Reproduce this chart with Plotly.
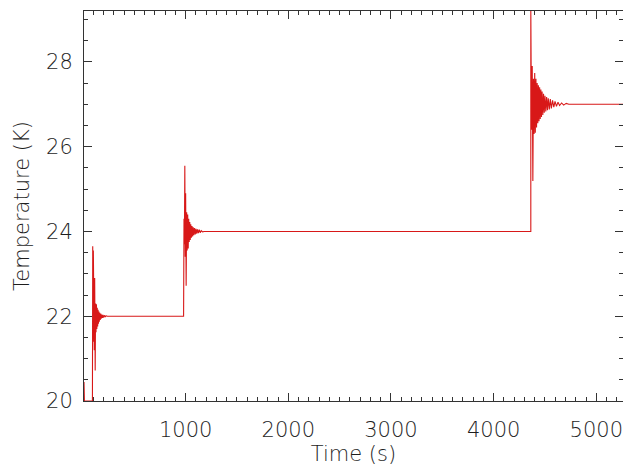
import plotly.graph_objects as go

# ---- data ----
t_start, t_end = 10, 5260
level0 = 20.0
start_values = [20.45, 20.0]          # tiny dip right at the start
start_times = [10, 14]

# transient 1: step at ~92 s, 20 K -> 22 K
step1 = 92
off1 = [0, 3, 6, 9, 12, 15, 18, 22, 27, 31, 35, 39, 43, 47, 51, 55, 59, 63, 67,
        71, 76, 81, 86, 91, 97, 103, 110, 118, 126, 135, 145]
val1 = [21.1, 23.65, 21.4, 23.55, 21.3, 23.3, 21.2, 22.9, 20.72, 22.3, 21.62,
        22.28, 21.7, 22.2, 21.76, 22.15, 21.82, 22.11, 21.87, 22.08, 21.91,
        22.06, 21.94, 22.04, 21.96, 22.03, 21.97, 22.02, 21.99, 22.01, 22.0]

# transient 2: step at ~980 s, 22 K -> 24 K
step2 = 980
off2 = [0, 4, 8, 12, 16, 20, 25, 30, 35, 40, 45, 50, 55, 60, 65, 70, 76, 82, 88,
        94, 100, 107, 114, 121, 128, 136, 144, 153, 162, 172, 185, 200]
val2 = [23.9, 24.3, 23.7, 25.55, 23.4, 24.9, 22.72, 24.45, 23.55, 24.4, 23.6,
        24.3, 23.75, 24.22, 23.8, 24.17, 23.85, 24.13, 23.88, 24.1, 23.91, 24.08,
        23.93, 24.06, 23.95, 24.05, 23.96, 24.04, 23.97, 24.02, 23.99, 24.0]

# transient 3: step at ~4362 s, 24 K -> 27 K
step3 = 4362
off3 = [0, 3, 8, 14, 20, 26, 32, 38, 44, 50, 56, 62, 68, 74, 80, 86, 92, 98, 104,
        110, 117, 124, 131, 138, 146, 154, 162, 170, 180, 190, 200, 212, 224, 236,
        250, 265, 280, 300, 320, 345, 370]
val3 = [29.25, 28.0, 26.4, 27.9, 25.19, 27.6, 26.3, 27.74, 26.33, 27.6, 26.45,
        27.5, 26.55, 27.45, 26.6, 27.4, 26.65, 27.35, 26.7, 27.3, 26.75, 27.25,
        26.8, 27.2, 26.83, 27.17, 26.86, 27.14, 26.88, 27.12, 26.9, 27.09, 26.93,
        27.07, 26.95, 27.05, 26.97, 27.03, 26.98, 27.02, 27.0]
level1, level2, level3 = 22.0, 24.0, 27.0

x_ticks = [1000, 2000, 3000, 4000, 5000]
x_labels = ["1000", "2000", "3000", "4000", "5000"]
y_ticks = [20, 22, 24, 26, 28]
y_labels = ["20", "22", "24", "26", "28"]

# ---- assemble the series ----
xs = list(start_times) + [step1]
ys = list(start_values) + [level0]
xs += [step1 + o for o in off1]
ys += val1
xs += [step2]
ys += [level1]
xs += [step2 + o for o in off2]
ys += val2
xs += [step3]
ys += [level2]
xs += [step3 + o for o in off3]
ys += val3
xs += [t_end]
ys += [level3]

axis_col = "#333333"
font_fam = "DejaVu Sans, Lato, sans-serif"
txt = dict(family=font_fam, size=21, color="#1e1e1e", weight=200)

fig = go.Figure()
fig.add_trace(go.Scatter(x=xs, y=ys, mode="lines",
                         line=dict(color="#d81818", width=1.1),
                         hoverinfo="skip"))

fig.update_layout(
    width=623, height=469,
    margin=dict(l=84, r=0, t=11, b=68),
    paper_bgcolor="white", plot_bgcolor="white",
    showlegend=False,
    font=txt,
)
fig.update_xaxes(
    range=[t_start, t_end],
    tickmode="array", tickvals=x_ticks, ticktext=x_labels,
    ticks="inside", ticklen=8, tickwidth=1, tickcolor=axis_col,
    showline=True, linecolor=axis_col, linewidth=1, mirror="allticks",
    showgrid=False, zeroline=False,
    minor=dict(tick0=0, dtick=100, ticks="inside", ticklen=4,
               tickcolor=axis_col, showgrid=False),
    ticklabelstandoff=10, tickfont=txt, ticklabeloverflow="allow",
    title=dict(text="Time (s)", standoff=4, font=txt),
)
fig.update_yaxes(
    range=[20, 29.2],
    tickmode="array", tickvals=y_ticks, ticktext=y_labels,
    ticks="inside", ticklen=8, tickwidth=1, tickcolor=axis_col,
    showline=True, linecolor=axis_col, linewidth=1, mirror="allticks",
    showgrid=False, zeroline=False,
    minor=dict(tick0=20, dtick=0.5, ticks="inside", ticklen=4,
               tickcolor=axis_col, showgrid=False),
    ticklabelstandoff=6, tickfont=txt,
    title=dict(text="Temperature (K)", standoff=10, font=txt),
)

fig.write_html("out.html")
